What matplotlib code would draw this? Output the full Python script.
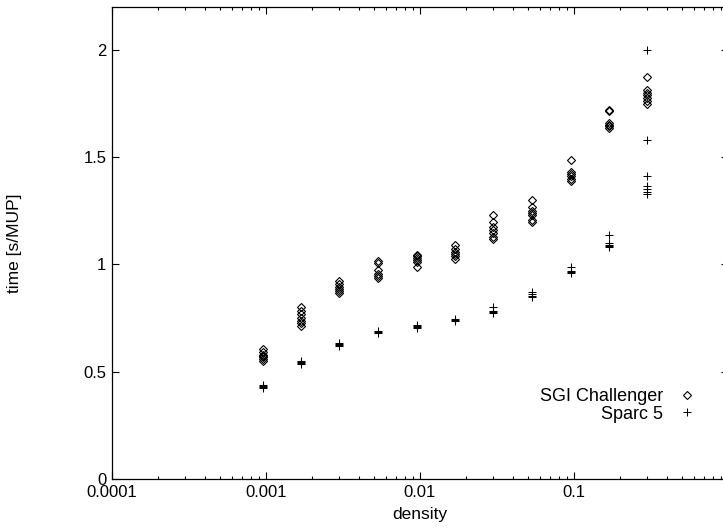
import matplotlib
matplotlib.use("Agg")
import matplotlib.pyplot as plt
from matplotlib.ticker import FixedLocator, LogLocator, NullFormatter

plt.rcParams['font.family'] = ['Liberation Sans', 'DejaVu Sans']

# densities of the measured runs
density = [0.00095, 0.00169, 0.0030, 0.00533, 0.0095, 0.0169,
           0.030, 0.0533, 0.095, 0.169, 0.30]

# time [s/MUP], several runs per density
sgi_times = [
    [0.605, 0.59, 0.58, 0.575, 0.57, 0.56, 0.55],
    [0.80, 0.785, 0.77, 0.75, 0.735, 0.725, 0.715],
    [0.925, 0.91, 0.895, 0.885, 0.875, 0.865],
    [1.015, 1.005, 0.975, 0.955, 0.945, 0.935],
    [1.045, 1.04, 1.03, 1.02, 1.01, 0.99],
    [1.09, 1.07, 1.06, 1.05, 1.04, 1.025],
    [1.23, 1.20, 1.175, 1.16, 1.145, 1.13, 1.12],
    [1.30, 1.27, 1.25, 1.24, 1.23, 1.205, 1.20],
    [1.485, 1.43, 1.42, 1.41, 1.40, 1.39],
    [1.72, 1.715, 1.66, 1.65, 1.645, 1.635],
    [1.875, 1.815, 1.80, 1.79, 1.775, 1.76, 1.75],
]
sparc_times = [
    [0.44, 0.435, 0.43, 0.425],
    [0.55, 0.545, 0.54, 0.535],
    [0.635, 0.63, 0.625, 0.62],
    [0.69, 0.685, 0.68],
    [0.72, 0.715, 0.71, 0.705],
    [0.745, 0.74, 0.735],
    [0.80, 0.785, 0.78, 0.775],
    [0.87, 0.86, 0.855, 0.85],
    [0.99, 0.97, 0.965, 0.96],
    [1.135, 1.10, 1.09, 1.085, 1.08],
    [2.0, 1.58, 1.41, 1.365, 1.35, 1.34, 1.33],
]

y_ticks = [0, 0.5, 1, 1.5, 2]
y_labels = ["0", "0.5", "1", "1.5", "2"]
x_ticks = [0.0001, 0.001, 0.01, 0.1, 1]
x_labels = ["0.0001", "0.001", "0.01", "0.1", "1"]


def flatten(xs, groups):
    px, py = [], []
    for x, g in zip(xs, groups):
        for v in g:
            px.append(x)
            py.append(v)
    return px, py


fig = plt.figure(figsize=(7.23, 5.28), dpi=100)
ax = fig.add_axes([112 / 723, 49 / 528, 616 / 723, 472 / 528])

sx, sy = flatten(density, sgi_times)
px, py = flatten(density, sparc_times)
ax.plot(sx, sy, linestyle='none', marker='D', markersize=3.6,
        markerfacecolor='none', markeredgecolor='black', markeredgewidth=0.8,
        label="SGI Challenger")
ax.plot(px, py, linestyle='none', marker='+', markersize=5.5,
        color='black', markeredgewidth=0.75, label="Sparc 5")

ax.set_xscale('log')
ax.set_xlim(0.0001, 1)
ax.set_ylim(0, 2.2)
ax.xaxis.set_major_locator(FixedLocator(x_ticks))
ax.set_xticklabels(x_labels)
ax.xaxis.set_minor_locator(LogLocator(base=10, subs=range(2, 10)))
ax.xaxis.set_minor_formatter(NullFormatter())
ax.set_yticks(y_ticks)
ax.set_yticklabels(y_labels)

ax.tick_params(which='both', direction='in', top=True, right=True,
               labelsize=12, width=0.8, pad=4)
ax.tick_params(which='major', length=5)
ax.tick_params(which='minor', length=2.5)
for s in ax.spines.values():
    s.set_linewidth(0.9)
for lab in ax.get_xticklabels():
    lab.set_clip_on(False)

ax.set_xlabel("density", fontsize=12.5, labelpad=5)
ax.set_ylabel("time [s/MUP]", fontsize=12.5, labelpad=44)

ax.legend(loc='upper right', bbox_to_anchor=(0.948, 0.193), frameon=False,
          markerfirst=False, fontsize=13, handlelength=1.0,
          handletextpad=0.8, borderpad=0, borderaxespad=0, labelspacing=0.05)

fig.savefig("out.png", dpi=100)
